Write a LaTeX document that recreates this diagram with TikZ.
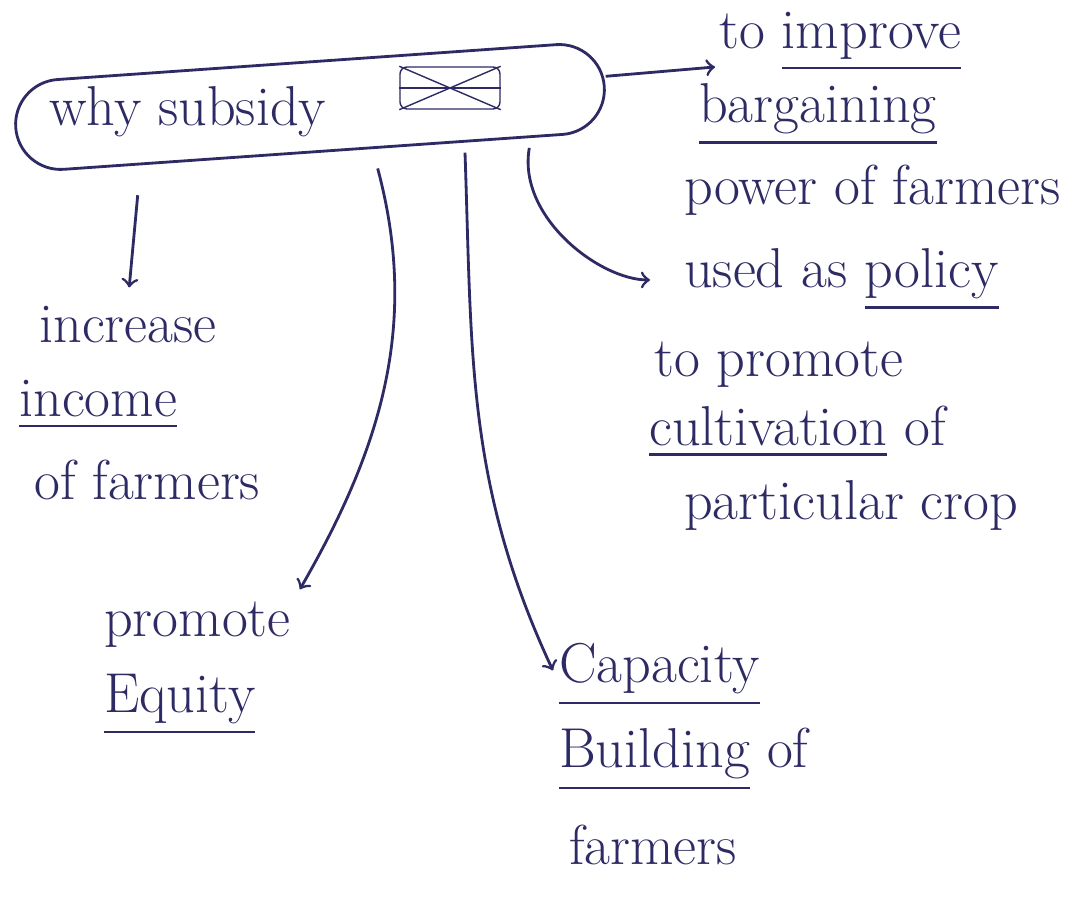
\documentclass[tikz,border=0pt]{standalone}
\usepackage{amsmath}
\usepackage{tikz}
\definecolor{ink}{RGB}{45,42,100}

\begin{document}
\begin{tikzpicture}[every node/.style={text=ink, font=\fontsize{16}{19}\selectfont, inner sep=1pt, anchor=west}, arr/.style={->, draw=ink, thick}]
  \useasboundingbox (0,0) rectangle (10.76cm,-8.99cm);
  \node (main) [anchor=center, draw=ink, thick, rounded corners=0.45cm, minimum width=5.9cm, minimum height=0.9cm, rotate=4] at (3.1cm,-1.07cm) {};
  \node (why) at (0.45cm,-1.12cm) {why subsidy};
  \node (struck) [anchor=center, draw=ink, rounded corners=2pt, minimum width=1.0cm, minimum height=0.42cm] at (4.5cm,-0.88cm) {};
  \draw[ink] (struck.north west) -- (struck.south east);
  \draw[ink] (struck.south west) -- (struck.north east);
  \draw[ink] (struck.west) -- (struck.east);

  \node (improveA) at (7.15cm,-0.42cm) {to \underline{improve}};
  \node (improveB) at (6.95cm,-1.15cm) {\underline{bargaining}};
  \node (improveC) at (6.8cm,-1.9cm) {power of farmers};

  \node (policyA) at (6.8cm,-2.8cm) {used as \underline{policy}};
  \node (policyB) at (6.5cm,-3.65cm) {to promote};
  \node (policyC) at (6.45cm,-4.32cm) {\underline{cultivation} of};
  \node (policyD) at (6.8cm,-5.05cm) {particular crop};

  \node (incA) at (0.35cm,-3.25cm) {increase};
  \node (incB) at (0.15cm,-4.05cm) {\underline{income}};
  \node (incC) at (0.3cm,-4.8cm) {of farmers};

  \node (eqA) at (1.0cm,-6.25cm) {promote};
  \node (eqB) at (1.0cm,-7.05cm) {\underline{Equity}};

  \node (capA) at (5.55cm,-6.75cm) {\underline{Capacity}};
  \node (capB) at (5.55cm,-7.6cm) {\underline{Building} of};
  \node (capC) at (5.65cm,-8.45cm) {farmers};

  \draw[arr] ([yshift=0.1cm]main.east) -- ([yshift=-0.25cm]improveA.west);
  \draw[arr, shorten <=0.1cm, shorten >=0.3cm] (main.-12) to[out=-100, in=180] (policyA.west);
  \draw[arr, shorten <=0.3cm, shorten >=0.15cm] (main.-165) -- (incA.north);
  \draw[arr, shorten <=0.2cm, shorten >=0.1cm] (main.-38) to[out=-75, in=60] (eqA.north east);
  \draw[arr, shorten <=0.1cm, shorten >=0.05cm] (main.-17) to[out=-88, in=115] (capA.west);
\end{tikzpicture}
\end{document}
